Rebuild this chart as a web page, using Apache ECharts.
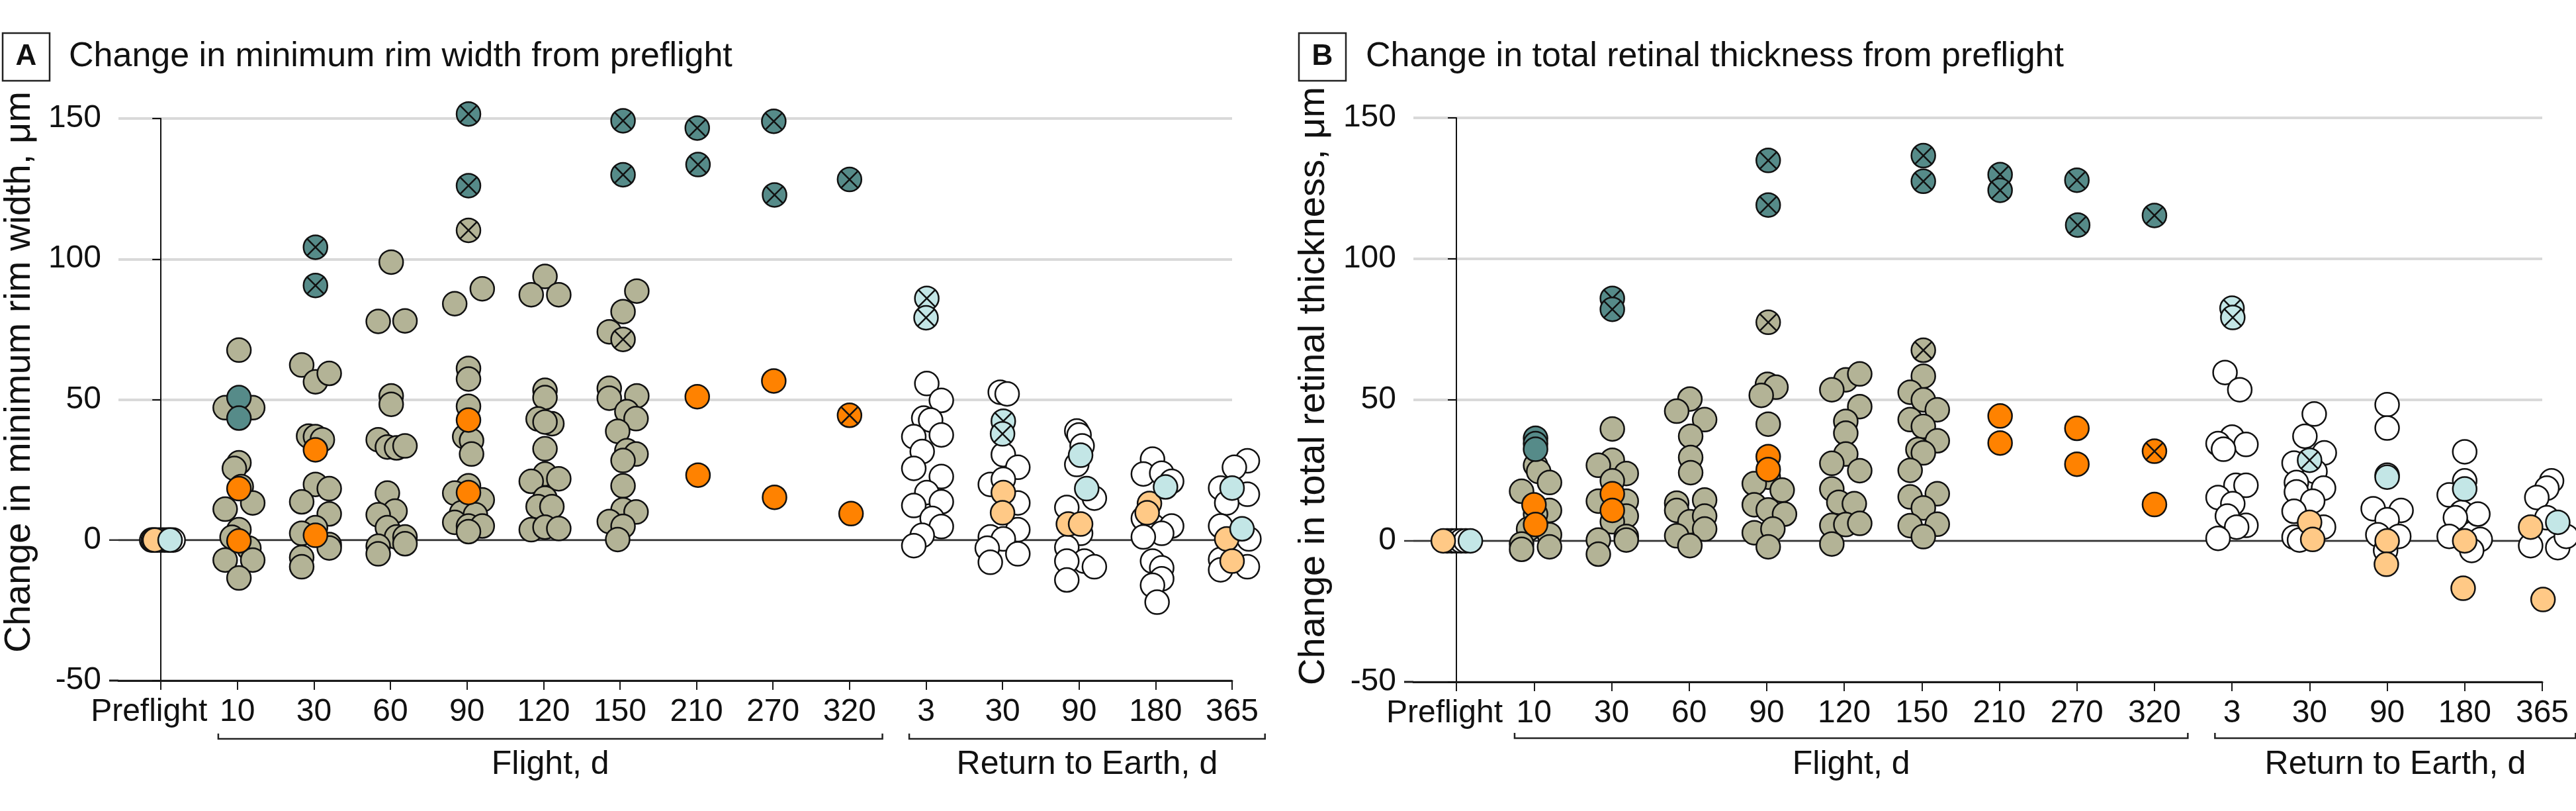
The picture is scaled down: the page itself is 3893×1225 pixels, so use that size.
<!DOCTYPE html>
<html><head><meta charset="utf-8">
<script src="https://cdn.jsdelivr.net/npm/echarts@6/dist/echarts.min.js"></script>
<style>html,body{margin:0;padding:0;background:#fff}#c{width:3893px;height:1225px}</style>
</head><body><div id="c"></div><script>
// ---------- tick labels ----------
const xLabels = ['Preflight','10','30','60','90','120','150','210','270','320','3','30','90','180','365'];
const catIdx = [0,1,2,3,4,5,6,7,8,9,10,11,12,13,14];
const panelTitles = ['Change in minimum rim width from preflight','Change in total retinal thickness from preflight'];
const panelLetters = ['A','B'];
const yTitles = ['Change in minimum rim width, \u03bcm','Change in total retinal thickness, \u03bcm'];
const groupNames = ['Flight, d','Return to Earth, d'];

// ---------- data: [category index, horizontal jitter (category units), value µm] ----------
// Panel A – minimum rim width
const A_olive = [
 [1,0.02,67.6],[1,-0.16,47.1],[1,0.2,47.1],[1,0.02,27.5],[1,-0.04,25.5],[1,0.05,19],[1,-0.16,11],[1,0.2,13.2],[1,0.02,3.7],[1,-0.07,1],[1,0.15,-2.9],[1,-0.16,-7.1],[1,0.2,-7.1],[1,0.02,-13.5],
 [2,-0.16,62.3],[2,0.02,56.3],[2,0.2,59.3],[2,-0.07,37],[2,0.02,36.8],[2,0.11,35.7],[2,0.02,19.8],[2,0.2,18.3],[2,-0.16,13.6],[2,0.2,9.3],[2,0.02,4.4],[2,-0.16,2.4],[2,0.2,-1.6],[2,0.2,-2.8],[2,-0.16,-6.2],[2,-0.16,-9.5],
 [3,0.01,98.9],[3,-0.16,77.8],[3,0.19,78],[3,0.01,51.3],[3,0.01,48.3],[3,-0.16,35.7],[3,-0.04,33.1],[3,0.08,32.8],[3,0.19,33.5],[3,-0.04,16.7],[3,0.06,10.3],[3,-0.16,9],[3,-0.04,4.4],[3,0.08,1.1],[3,0.19,1.1],[3,0.19,-1.3],[3,-0.16,-2.2],[3,-0.16,-4.9],
 [4,-0.16,84.1],[4,0.2,89.4],[4,0.02,61.1],[4,0.02,57.3],[4,0.02,47.6],[4,-0.03,36.8],[4,0.06,35.4],[4,0.06,30.6],[4,0.02,19.3],[4,-0.16,16.7],[4,0.2,14.3],[4,-0.07,9.7],[4,0.11,9],[4,-0.16,6.3],[4,0.02,5],[4,0.2,5],[4,0.02,3],
 [5,0.02,93.8],[5,-0.16,87.3],[5,0.2,87.3],[5,0.02,53.3],[5,0.02,50.7],[5,-0.07,43.1],[5,0.11,41.4],[5,0.02,42],[5,0.02,32.5],[5,0.02,23.5],[5,-0.16,20.9],[5,0.2,21.8],[5,0.02,14.9],[5,-0.07,11.9],[5,0.11,11.9],[5,-0.16,3.7],[5,0.02,4.6],[5,0.2,4.1],
 [6,0.22,88.6],[6,0.04,81.3],[6,-0.14,74.1],[6,-0.14,54],[6,-0.14,50.5],[6,0.22,51.3],[6,0.09,45.7],[6,0.21,43.2],[6,-0.03,38.7],[6,0.09,31.8],[6,0.21,30.6],[6,0.04,28.3],[6,0.04,19.3],[6,0.04,10.8],[6,0.21,10],[6,-0.14,6.6],[6,0.04,4.9],[6,-0.03,0.2]
];
const A_oliveX = [[4,0.02,110.2],[6,0.04,71.4]];
const A_teal = [[1,0.02,50.7],[1,0.02,43.4]];
const A_tealX = [[2,0.02,104.2],[2,0.02,90.6],[4,0.02,151.6],[4,0.02,126.1],[6,0.04,149.2],[6,0.04,130],[7,0.01,146.6],[7,0.02,133.6],[8,0.01,149],[8,0.02,122.8],[9,0,128.3]];
const A_orange = [[1,0.02,18.3],[1,0.02,-0.3],[2,0.02,32.1],[2,0.02,1.7],[4,0.02,42.7],[4,0.02,16.9],[7,0.01,51],[7,0.02,23.1],[8,0.01,56.6],[8,0.02,15.2],[9,0.02,9.4]];
const A_orangeX = [[9,0,44.4]];
const A_white = [
 [0,-0.12,0],[0,-0.1,0],[0,-0.05,0],[0,0,0],[0,0.05,0],[0,0.1,0],[0,0.16,0],
 [10,0.01,55.7],[10,0.2,49.7],[10,-0.03,43.4],[10,0.06,42.7],[10,-0.16,36.8],[10,0.2,37.4],[10,-0.05,31.5],[10,-0.16,25.5],[10,0.2,22.6],[10,0.01,16.9],[10,0.2,13.6],[10,-0.16,12.3],[10,0.08,7.7],[10,0.2,4.8],[10,-0.05,1.7],[10,-0.16,-2],
 [11,-0.03,52.6],[11,0.06,52],[11,0.01,30.4],[11,0.2,25.9],[11,-0.16,19.8],[11,0.01,21.6],[11,0.2,13.2],[11,0.2,3.7],[11,-0.16,1.1],[11,0.01,0.4],[11,-0.2,-2.9],[11,0.2,-4.9],[11,-0.16,-7.9],
 [12,-0.03,38.8],[12,0,37.4],[12,0.04,33.5],[12,-0.03,26.9],[12,0.2,14.9],[12,-0.16,11.6],[12,0.02,2.4],[12,-0.16,-2.6],[12,0.07,-7.5],[12,0.2,-9.5],[12,-0.16,-7.5],[12,-0.16,-14.2],
 [13,-0.04,28.8],[13,-0.16,23.5],[13,0.08,23.8],[13,0.21,20.9],[13,-0.16,7.7],[13,-0.03,5],[13,0.21,5],[13,0.08,2.4],[13,-0.16,1.1],[13,-0.04,-7.5],[13,0.08,-9.9],[13,0.08,-13.8],[13,-0.04,-16.1],[13,0.02,-22.1],
 [14,0.2,28.2],[14,0.03,25.9],[14,-0.15,18.5],[14,0.2,16.3],[14,-0.07,13.2],[14,-0.15,5],[14,0.22,0.4],[14,-0.15,-6.9],[14,0.2,-9.5],[14,-0.15,-10.6]
];
const A_lightOrange = [[0,-0.08,0],[11,0.01,16.9],[11,0,9.7],[12,-0.14,5.7],[12,0.02,5.7],[13,-0.08,13],[13,-0.11,9.7],[14,-0.07,0.4],[14,0,-7.5]];
const A_cyan = [[0,0.12,0],[12,0.02,30.2],[12,0.1,18.3],[13,0.13,18.9],[14,0,18.5],[14,0.13,4]];
const A_cyanX = [[10,0.01,86],[10,0,79.1],[11,0.01,42.3],[11,0,37.8]];

// Panel B – total retinal thickness
const B_olive = [
 [1,0.02,26.8],[1,0.06,24.6],[1,0.2,20.7],[1,-0.16,17.6],[1,0.2,10.8],[1,0.02,9.5],[1,-0.07,4.2],[1,0.2,2.2],[1,-0.16,-1.1],[1,-0.16,-3],[1,0.2,-2.1],
 [2,0.01,39.7],[2,0.01,28.6],[2,-0.17,26.8],[2,0.19,23.9],[2,0.01,21.3],[2,-0.17,14.1],[2,0.19,14.1],[2,0.19,8.8],[2,0.01,6.8],[2,-0.17,0.3],[2,0.19,1.6],[2,0.19,0.3],[2,-0.17,-4.7],
 [3,0.01,50.3],[3,-0.16,46],[3,0.2,43],[3,0.02,37.1],[3,0.02,29.6],[3,0.02,24.2],[3,-0.16,13.4],[3,0.2,14.5],[3,-0.16,10.8],[3,0.01,6.8],[3,0.2,8.8],[3,0.2,4.2],[3,-0.16,1.8],[3,0.01,-1.7],
 [4,0.01,55.5],[4,0.12,54.5],[4,-0.07,51.6],[4,0.02,41.4],[4,0.02,22.6],[4,-0.16,20.3],[4,0.2,18],[4,-0.16,12.8],[4,0.02,11],[4,0.23,9.5],[4,-0.16,2.9],[4,0.08,4.2],[4,0.02,-2.1],
 [5,0.02,57.1],[5,0.2,59.2],[5,-0.16,53.6],[5,0.2,47.6],[5,0.02,42.4],[5,0.02,38.2],[5,0.02,30.8],[5,-0.16,27.5],[5,0.2,24.9],[5,-0.16,18.4],[5,-0.07,13.7],[5,0.13,13.2],[5,-0.16,5.5],[5,0.02,5.8],[5,0.2,6.2],[5,-0.16,-1.1],
 [6,0.02,58.4],[6,-0.15,52.7],[6,0.02,50],[6,0.2,46.5],[6,-0.15,43],[6,0.02,40.6],[6,0.2,35.5],[6,-0.05,32.4],[6,0.02,31.2],[6,-0.15,25],[6,-0.15,15.6],[6,0.2,16.7],[6,0.02,11.7],[6,-0.15,5.4],[6,0.2,5.9],[6,0.02,1.5]
];
const B_oliveX = [[4,0.02,77.5],[6,0.02,67.6]];
const B_teal = [[1,0.02,36.4],[1,0.02,34.5],[1,0.02,32.5]];
const B_tealX = [[2,0.01,86],[2,0.01,82.1],[4,0.02,134.9],[4,0.02,119.1],[6,0.02,136.6],[6,0.02,127.5],[7,0.01,129.9],[7,0.01,124.3],[8,0,127.9],[8,0.01,112],[9,0,115.4]];
const B_orange = [[1,0,12.8],[1,0.02,5.8],[2,0.01,16.7],[2,0.01,10.8],[4,0.02,29.9],[4,0.02,25.3],[7,0.01,44.3],[7,0.01,34.7],[8,0,39.9],[8,0,27.2],[9,0,12.9]];
const B_orangeX = [[9,0,31.8]];
const B_white = [
 [0,-0.12,0],[0,-0.06,0],[0,0,0],[0,0.06,0],[0,0.12,0],
 [10,-0.09,59.7],[10,0.1,53.6],[10,0,36.8],[10,-0.18,34.5],[10,0.18,34.2],[10,-0.11,32.5],[10,0.05,19.7],[10,0.18,19.7],[10,-0.18,15.4],[10,0.01,13.2],[10,-0.06,8.8],[10,0.18,5.5],[10,0.06,4.9],[10,-0.18,0.9],
 [11,0.06,45],[11,-0.06,37.1],[11,0.19,31.2],[11,-0.2,27.6],[11,0.07,24.6],[11,-0.17,20.7],[11,0.18,18.7],[11,-0.17,17.4],[11,0.04,14.1],[11,-0.2,10.5],[11,0.18,4.9],[11,-0.2,1.3],[11,-0.13,0.3],
 [12,0,48.3],[12,0,40],[12,0,23.3],[12,-0.18,11.4],[12,0.18,10.8],[12,0,7.5],[12,-0.12,2.2],[12,0.15,1.6],[12,-0.02,-3.4],
 [13,0,31.6],[13,0,21.3],[13,-0.2,16.3],[13,-0.04,10.1],[13,0.17,9.5],[13,-0.12,8.2],[13,-0.2,1.6],[13,0.2,0.5],[13,0.09,-3.4],
 [14,0.12,21.3],[14,0.06,18.7],[14,-0.07,15.4],[14,0.06,8.2],[14,-0.15,-1.7],[14,0.2,-2.4],[14,0.31,1.6]
];
const B_lightOrange = [[0,-0.17,0],[11,0,6.6],[11,0.04,0.5],[12,0,0],[12,-0.01,-8.3],[13,0,0],[13,-0.02,-16.8],[14,-0.15,4.9],[14,0.01,-20.8]];
const B_cyan = [[0,0.18,0],[12,0,22.6],[13,0,18.4],[14,0.2,6.6]];
const B_cyanX = [[10,0,82.5],[10,0.01,79.2],[11,0,28.6]];

// ---------- styles ----------
const FONT = '"Liberation Sans", Arial, sans-serif';
const C = {olive:'#b3b396', teal:'#568b89', orange:'#ff8200', lightOrange:'#ffc986', cyan:'#c3e6e6', white:'#ffffff'};
const CIRCLE = 'circle';
const CROSS = 'path://M0,-50 A50,50 0 1,1 0,50 A50,50 0 1,1 0,-50 Z M-35.36,-35.36 L35.36,35.36 M35.36,-35.36 L-35.36,35.36';

const panels = [
  {groups:[[A_olive,C.olive,CIRCLE],[A_white,C.white,CIRCLE],[A_oliveX,C.olive,CROSS],[A_teal,C.teal,CIRCLE],[A_tealX,C.teal,CROSS],
           [A_orange,C.orange,CIRCLE],[A_orangeX,C.orange,CROSS],[A_lightOrange,C.lightOrange,CIRCLE],[A_cyan,C.cyan,CIRCLE],[A_cyanX,C.cyan,CROSS]]},
  {groups:[[B_olive,C.olive,CIRCLE],[B_white,C.white,CIRCLE],[B_oliveX,C.olive,CROSS],[B_teal,C.teal,CIRCLE],[B_tealX,C.teal,CROSS],
           [B_orange,C.orange,CIRCLE],[B_orangeX,C.orange,CROSS],[B_lightOrange,C.lightOrange,CIRCLE],[B_cyan,C.cyan,CIRCLE],[B_cyanX,C.cyan,CROSS]]}
];

const grids = [{left:179, right:2031, top:179, bottom:197},{left:2136, right:51, top:178, bottom:195}];

const xAxes = grids.map((g,i)=>({
  type:'value', gridIndex:i, min:-0.555, max:14,
  splitLine:{show:false},
  axisLine:{show:true, onZero:false, lineStyle:{color:'#1a1a1a', width:3}},
  axisTick:{show:true, customValues:catIdx, length:14, lineStyle:{color:'#1a1a1a', width:2}},
  axisLabel:{show:true, customValues:catIdx, margin:24, fontSize:48, color:'#111', fontFamily:FONT,
    formatter:(v)=>{const k=Math.round(v); return k===0 ? '{p|'+xLabels[0]+'}' : xLabels[k];},
    rich:{p:{fontSize:48, color:'#111', fontFamily:FONT, padding:[0,36,0,0]}}}
}));
const yAxes = grids.map((g,i)=>({
  type:'value', gridIndex:i, min:-50, max:150, interval:50,
  axisLine:{show:true, lineStyle:{color:'#111', width:2}},
  axisTick:{show:true, length:13, lineStyle:{color:'#111', width:2}},
  axisLabel:{fontSize:48, margin:26, color:'#111', fontFamily:FONT},
  splitLine:{show:true, lineStyle:{color:'#d9d9d9', width:4}}
}));

const series = [];
panels.forEach((p,pi)=>{
  p.groups.forEach(([arr,color,sym],gi)=>{
    series.push({
      type:'scatter', xAxisIndex:pi, yAxisIndex:pi, clip:false, silent:true, animation:false,
      symbol:sym, symbolSize:36, z:2+gi,
      itemStyle:{color:color, borderColor:'#111', borderWidth:2.5, opacity:1},
      data: arr.map(d=>[d[0]+d[1], d[2]])
    });
  });
});

const chart = echarts.init(document.getElementById('c'), null, {renderer:'canvas'});
chart.setOption({animation:false, backgroundColor:'#fff', grid:grids, xAxis:xAxes, yAxis:yAxes, series:series});

// ---------- annotations placed through the axes ----------
const gfx = [];
const boxX = [4, 1963], titleX = [104, 2064], yTitleX = [30, 1986], yTitleY = [562, 583];
for (let i=0;i<2;i++){
  const px = (x,y)=>chart.convertToPixel({gridIndex:i},[x,y]);
  const [l0,yBot] = px(-0.555,-50);
  const [r0,y0] = px(14,0);
  // zero line & axis extension
  gfx.push({type:'line', z:1, shape:{x1:l0-14,y1:y0,x2:r0,y2:y0}, style:{stroke:'#333', lineWidth:2.5}});
  gfx.push({type:'line', z:1, shape:{x1:l0-14,y1:yBot,x2:l0,y2:yBot}, style:{stroke:'#1a1a1a', lineWidth:3}});
  // brackets
  const by = i===0 ? 1116 : 1115;
  const spans = [[1-0.25, 9+0.43],[10-0.22, 14+0.43]];
  spans.forEach((s,si)=>{
    const xa = px(s[0],0)[0], xb = px(s[1],0)[0];
    gfx.push({type:'polyline', shape:{points:[[xa,by-8],[xa,by],[xb,by],[xb,by-8]]}, style:{stroke:'#222', lineWidth:2.5, fill:null}});
    gfx.push({type:'text', x:(xa+xb)/2, y:1130, style:{text:groupNames[si], font:'50px '+FONT, fill:'#111', textAlign:'center', textVerticalAlign:'top'}});
  });
  // panel box + title
  gfx.push({type:'rect', shape:{x:boxX[i], y:50, width:71, height:72}, style:{stroke:'#222', lineWidth:2.5, fill:'#fff'}});
  gfx.push({type:'text', x:boxX[i]+35.5, y:86, style:{text:panelLetters[i], font:'bold 44px '+FONT, fill:'#111', textAlign:'center', textVerticalAlign:'middle'}});
  gfx.push({type:'text', x:titleX[i], y:86, style:{text:panelTitles[i], font:'52px '+FONT, fill:'#111', textAlign:'left', textVerticalAlign:'middle'}});
  // y title
  gfx.push({type:'text', x:yTitleX[i], y:yTitleY[i], rotation:Math.PI/2, style:{text:yTitles[i], font:'56px '+FONT, fill:'#111', textAlign:'center', textVerticalAlign:'middle'}});
}
chart.setOption({graphic:gfx});
</script></body></html>
